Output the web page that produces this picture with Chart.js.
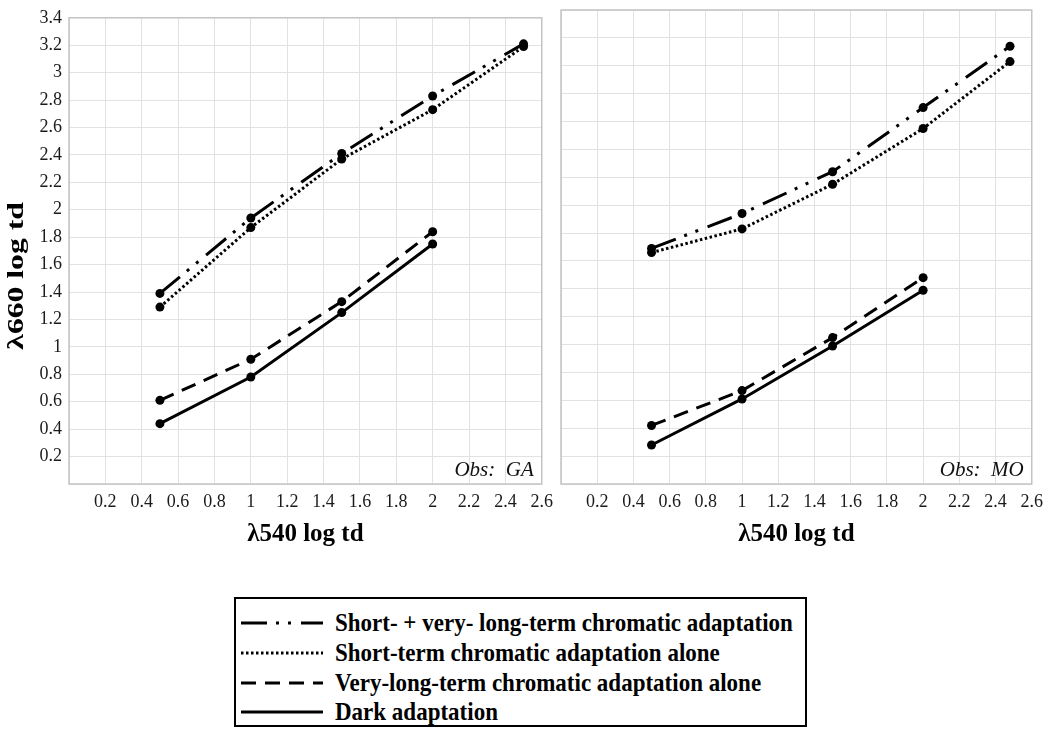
<!DOCTYPE html>
<html>
<head>
<meta charset="utf-8">
<script src="https://cdn.jsdelivr.net/npm/chart.js@4.4.1/dist/chart.umd.min.js"></script>
<style>
  body { margin: 0; background: #fff; width: 1050px; height: 737px; overflow: hidden; position: relative; font-family: "Liberation Serif", serif; }
  #leftBox { position: absolute; left: 0; top: 0; width: 560px; height: 560px; }
  #rightBox { position: absolute; left: 545px; top: 0; width: 505px; height: 560px; }
  #legend { position: absolute; left: 234px; top: 597px; width: 569px; height: 126px; border: 2px solid #000; }
  .row { position: absolute; left: 0; width: 569px; height: 30px; }
  .row svg { position: absolute; left: 5px; top: 0; }
  .row span { position: absolute; left: 99px; top: 2px; font-weight: bold; font-size: 23px; line-height: 26px; white-space: nowrap; color: #000; transform: scaleY(1.1); transform-origin: left center; }
</style>
</head>
<body>
<div id="leftBox"><canvas id="myChart"></canvas></div>
<div id="rightBox"><canvas id="myChart2"></canvas></div>
<div id="legend"></div>
<script>
// axis ticks
var xTickLabels = ['', '0.2', '0.4', '0.6', '0.8', '1', '1.2', '1.4', '1.6', '1.8', '2', '2.2', '2.4', '2.6'];
var yTickLabels = ['', '0.2', '0.4', '0.6', '0.8', '1', '1.2', '1.4', '1.6', '1.8', '2', '2.2', '2.4', '2.6', '2.8', '3', '3.2', '3.4'];

var seriesNames = [
  'Short- + very- long-term chromatic adaptation',
  'Short-term chromatic adaptation alone',
  'Very-long-term chromatic adaptation alone',
  'Dark adaptation'
];
var observers = ['GA', 'MO'];

// λ540 log td levels
var gaX = [0.5, 1, 1.5, 2, 2.5];
var moX = [0.5, 1, 1.5, 2, 2.48];

// λ660 log td, observer GA
var gaCombined = [1.39, 1.94, 2.41, 2.83, 3.21];
var gaShort = [1.29, 1.87, 2.37, 2.73, 3.19];
var gaLong = [0.61, 0.91, 1.33, 1.84];
var gaDark = [0.44, 0.78, 1.25, 1.75];

// λ660 log td, observer MO
var moCombined = [1.69, 1.94, 2.24, 2.70, 3.14];
var moShort = [1.66, 1.83, 2.15, 2.55, 3.03];
var moLong = [0.42, 0.67, 1.05, 1.48];
var moDark = [0.28, 0.61, 0.99, 1.39];

var dashes = [
  [26, 9, 3, 9, 3, 10],
  [2.5, 2.5],
  [15, 9],
  []
];

const serif = '"Liberation Serif", "Times New Roman", serif';

const chartAreaBorder = {
  id: 'chartAreaBorder',
  beforeDatasetsDraw(chart, args, options) {
    const {ctx, chartArea: {left, top, width, height}} = chart;
    ctx.save();
    ctx.strokeStyle = options.borderColor;
    ctx.lineWidth = options.borderWidth;
    ctx.strokeRect(left, top, width, height);
    ctx.restore();
  }
};

const obsLabel = {
  id: 'obsLabel',
  afterDraw(chart, args, options) {
    const {ctx, chartArea: {right, bottom}} = chart;
    ctx.save();
    ctx.font = 'italic 21px ' + serif;
    ctx.fillStyle = '#111';
    ctx.textAlign = 'right';
    ctx.textBaseline = 'alphabetic';
    ctx.fillText(options.text, right - 8, bottom - 8);
    ctx.restore();
  }
};

// rotated, stretched y title like the original
const yTitle = {
  id: 'yTitle',
  afterDraw(chart, args, options) {
    if (!options.text) return;
    const {ctx, chartArea: {left, top, bottom}} = chart;
    ctx.save();
    ctx.translate(left - 52, (top + bottom) / 2 + 25);
    ctx.rotate(-Math.PI / 2);
    ctx.scale(1.32, 1);
    ctx.font = 'bold 24px ' + serif;
    ctx.fillStyle = '#000';
    ctx.textAlign = 'center';
    ctx.textBaseline = 'middle';
    ctx.fillText(options.text, 0, 0);
    ctx.restore();
  }
};

function pts(xs, ys) {
  return ys.map(function(y, i) { return {x: xs[i], y: y}; });
}

function makeDatasets(xs, series) {
  return series.map(function(ys, i) {
    return {
      label: seriesNames[i],
      data: pts(xs, ys),
      borderColor: '#000',
      borderWidth: 3,
      borderDash: dashes[i],
      borderCapStyle: 'butt',
      pointRadius: 4.5,
      pointBackgroundColor: '#000',
      pointBorderWidth: 0,
      fill: false,
      tension: 0
    };
  });
}

function makeOptions(first, obs) {
  return {
    responsive: true,
    maintainAspectRatio: false,
    animation: false,
    layout: { padding: { top: 10, right: first ? 17 : 16, left: 0, bottom: 0 } },
    plugins: {
      legend: { display: false },
      tooltip: { enabled: false },
      chartAreaBorder: { borderColor: '#c4c4c4', borderWidth: 1.5 },
      obsLabel: { text: 'Obs:  ' + obs },
      yTitle: { text: first ? 'λ660 log td' : '' }
    },
    scales: {
      x: {
        type: 'linear',
        min: 0,
        max: 2.6,
        afterFit: function(s) { s.height = 76; },
        ticks: {
          stepSize: 0.2,
          padding: 7,
          maxRotation: 0,
          autoSkip: false,
          color: '#1a1a1a',
          font: { family: serif, size: 18 },
          callback: function(v) { return xTickLabels[Math.round(v / 0.2)]; }
        },
        grid: { color: '#e2e2e2', drawTicks: false },
        border: { display: false },
        title: {
          display: true,
          text: 'λ540 log td',
          color: '#000',
          font: { family: serif, size: 25, weight: 'bold' },
          padding: { top: 0, bottom: 10 }
        }
      },
      y: {
        min: 0,
        max: 3.4,
        afterFit: function(s) { s.width = first ? 69 : 16; },
        ticks: {
          display: first,
          stepSize: 0.2,
          padding: 7,
          autoSkip: false,
          color: '#1a1a1a',
          font: { family: serif, size: 18 },
          callback: function(v) { return yTickLabels[Math.round(v / 0.2)]; }
        },
        grid: { color: '#e2e2e2', drawTicks: false },
        border: { display: false }
      }
    }
  };
}

var leftChart = new Chart(myChart, {
  type: 'line',
  data: { datasets: makeDatasets(gaX, [gaCombined, gaShort, gaLong, gaDark]) },
  options: makeOptions(true, observers[0]),
  plugins: [chartAreaBorder, obsLabel, yTitle]
});

var rightChart = new Chart(myChart2, {
  type: 'line',
  data: { datasets: makeDatasets(moX, [moCombined, moShort, moLong, moDark]) },
  options: makeOptions(false, observers[1]),
  plugins: [chartAreaBorder, obsLabel, yTitle]
});

// html legend from the datasets
var legendBox = document.getElementById('legend');
var rowTops = [9, 39, 69, 98];
leftChart.data.datasets.forEach(function(ds, i) {
  var row = document.createElement('div');
  row.className = 'row';
  row.style.top = rowTops[i] + 'px';
  var dash = ds.borderDash.length ? ' stroke-dasharray="' + ds.borderDash.join(' ') + '"' : '';
  row.innerHTML = '<svg width="84" height="30"><line x1="0" y1="15" x2="82" y2="15" stroke="#000" stroke-width="3"' + dash + '/></svg>' +
    '<span>' + ds.label + '</span>';
  legendBox.appendChild(row);
});
</script>
</body>
</html>
